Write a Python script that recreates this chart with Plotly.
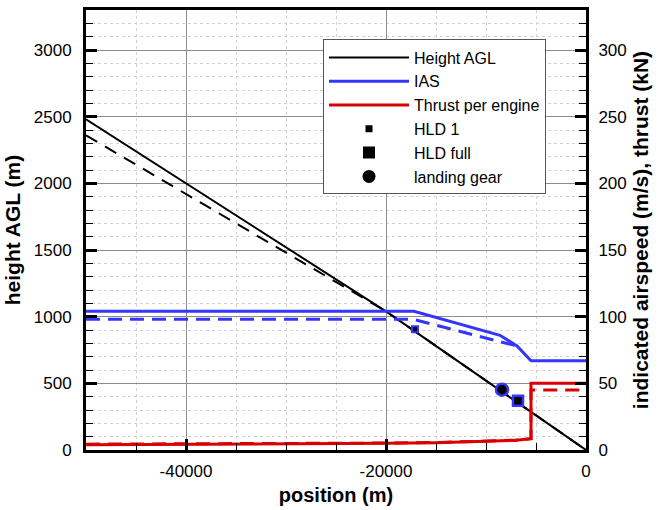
import plotly.graph_objects as go

# Approach profile: height above ground along the track
pos_height = [-50000, -40000, -20000, 0]
height = [2480, 2000, 1040, 0]
pos_height_alt = [-50000, -20500, -20000, 0]
height_alt = [2360, 1064, 1040, 0]

# Indicated airspeed (m/s)
pos_ias = [-50000, -17200, -8600, -6900, -5500, 0]
ias = [104, 104, 86, 78, 67, 67]
pos_ias_alt = [-50000, -17300, -6900]
ias_alt = [98, 98, 78]

# Thrust per engine (kN)
pos_thrust = [-50000, -40000, -30000, -20000, -15000, -10000, -7000, -5500, -5500, 0]
thrust = [4.0, 4.2, 4.5, 5.0, 5.5, 6.3, 7.3, 8.5, 50, 50]
pos_thrust_alt = [-50000, -40000, -30000, -20000, -15000, -10000, -7000, -5500, -5500, 0]
thrust_alt = [4.4, 4.5, 4.8, 5.2, 5.6, 6.4, 7.4, 8.5, 45, 45]

# Configuration change events (position, height)
hld1_pos, hld1_h = [-17100], [905]
gear_pos, gear_h = [-8400], [452]
hldfull_pos, hldfull_h = [-6800], [370]

# Axis tick labels
x_tickvals = [-40000, -20000, 0]
x_ticktext = ["-40000", "-20000", "0"]

BLACK = "#000000"
BLUE = "#3535ff"
RED = "#d90000"
FONT = "Liberation Sans, Arial, sans-serif"

fig = go.Figure()

fig.add_trace(go.Scatter(x=pos_height, y=height, mode="lines", name="Height AGL",
                         line=dict(color=BLACK, width=2)))
fig.add_trace(go.Scatter(x=pos_ias, y=ias, mode="lines", name="IAS", yaxis="y2",
                         line=dict(color=BLUE, width=3)))
fig.add_trace(go.Scatter(x=pos_thrust, y=thrust, mode="lines", name="Thrust per engine",
                         yaxis="y2", line=dict(color=RED, width=3)))

fig.add_trace(go.Scatter(x=pos_height_alt, y=height_alt, mode="lines", showlegend=False,
                         line=dict(color=BLACK, width=2, dash="13px,9px")))
fig.add_trace(go.Scatter(x=pos_ias_alt, y=ias_alt, mode="lines", showlegend=False, yaxis="y2",
                         line=dict(color=BLUE, width=3, dash="14px,8px")))
fig.add_trace(go.Scatter(x=pos_thrust_alt, y=thrust_alt, mode="lines", showlegend=False, yaxis="y2",
                         line=dict(color=RED, width=3, dash="14px,8px")))

# event markers on the height profile
fig.add_trace(go.Scatter(x=hld1_pos, y=hld1_h, mode="markers", showlegend=False,
                         marker=dict(symbol="square", size=6, color=BLACK,
                                     line=dict(color=BLUE, width=2))))
fig.add_trace(go.Scatter(x=gear_pos, y=gear_h, mode="markers", showlegend=False,
                         marker=dict(symbol="circle", size=12, color=BLACK,
                                     line=dict(color=BLUE, width=2.5))))
fig.add_trace(go.Scatter(x=hldfull_pos, y=hldfull_h, mode="markers", showlegend=False,
                         marker=dict(symbol="square", size=10, color=BLACK,
                                     line=dict(color=BLUE, width=2.5))))

# legend entries for the events (plain black symbols)
for nm, sym, sz in [("HLD 1", "square", 7), ("HLD full", "square", 12), ("landing gear", "circle", 13)]:
    fig.add_trace(go.Scatter(x=[None], y=[None], mode="markers", name=nm,
                             marker=dict(symbol=sym, size=sz, color=BLACK)))

minor_grid = dict(showgrid=True, gridcolor="#d2d2d2", griddash="dot", gridwidth=1,
                  ticks="inside", ticklen=7, tickwidth=1, tickcolor=BLACK)

fig.update_layout(
    width=668, height=510,
    margin=dict(l=86, r=82, t=7, b=54),
    paper_bgcolor="white", plot_bgcolor="white",
    font=dict(family=FONT, size=17, color=BLACK),
    xaxis=dict(range=[-50000, 0], tickmode="array", tickvals=x_tickvals, ticktext=x_ticktext,
               ticks="inside", ticklen=11,
               tickwidth=3, tickcolor=BLACK, showline=True, linewidth=3, linecolor=BLACK,
               mirror=True, showgrid=True, gridcolor="#8c8c8c", gridwidth=1, zeroline=False,
               tickfont=dict(size=17), ticklabelstandoff=4,
               minor=dict(dtick=5000, tick0=0, **minor_grid),
               title=dict(text="<b>position (m)</b>", font=dict(size=20), standoff=8)),
    yaxis=dict(range=[0, 3300], tick0=0, dtick=500, ticks="inside", ticklen=11,
               tickwidth=3, tickcolor=BLACK, showline=True, linewidth=3, linecolor=BLACK,
               showgrid=True, gridcolor="#8c8c8c", gridwidth=1, zeroline=False,
               tickfont=dict(size=17), ticklabelstandoff=8,
               minor=dict(dtick=100, **minor_grid),
               title=dict(text="<b>height AGL (m)</b>", font=dict(size=21), standoff=8)),
    yaxis2=dict(range=[0, 330], tick0=0, dtick=50, overlaying="y", side="right",
                ticks="inside", ticklen=11, tickwidth=3, tickcolor=BLACK, showline=True,
                linewidth=3, linecolor=BLACK, showgrid=False, zeroline=False,
                tickfont=dict(size=17), ticklabelstandoff=6,
                minor=dict(dtick=10, ticks="inside", ticklen=7, tickwidth=1,
                           tickcolor=BLACK, showgrid=False),
                title=dict(text="<b>indicated airspeed (m/s), thrust (kN)</b>",
                           font=dict(size=21), standoff=8)),
    legend=dict(x=0.474, y=0.933, xanchor="left", yanchor="top",
                bgcolor="white", bordercolor="#555555", borderwidth=1,
                font=dict(size=16), itemwidth=80, tracegroupgap=0),
    showlegend=True,
)

fig.write_html("out.html")
